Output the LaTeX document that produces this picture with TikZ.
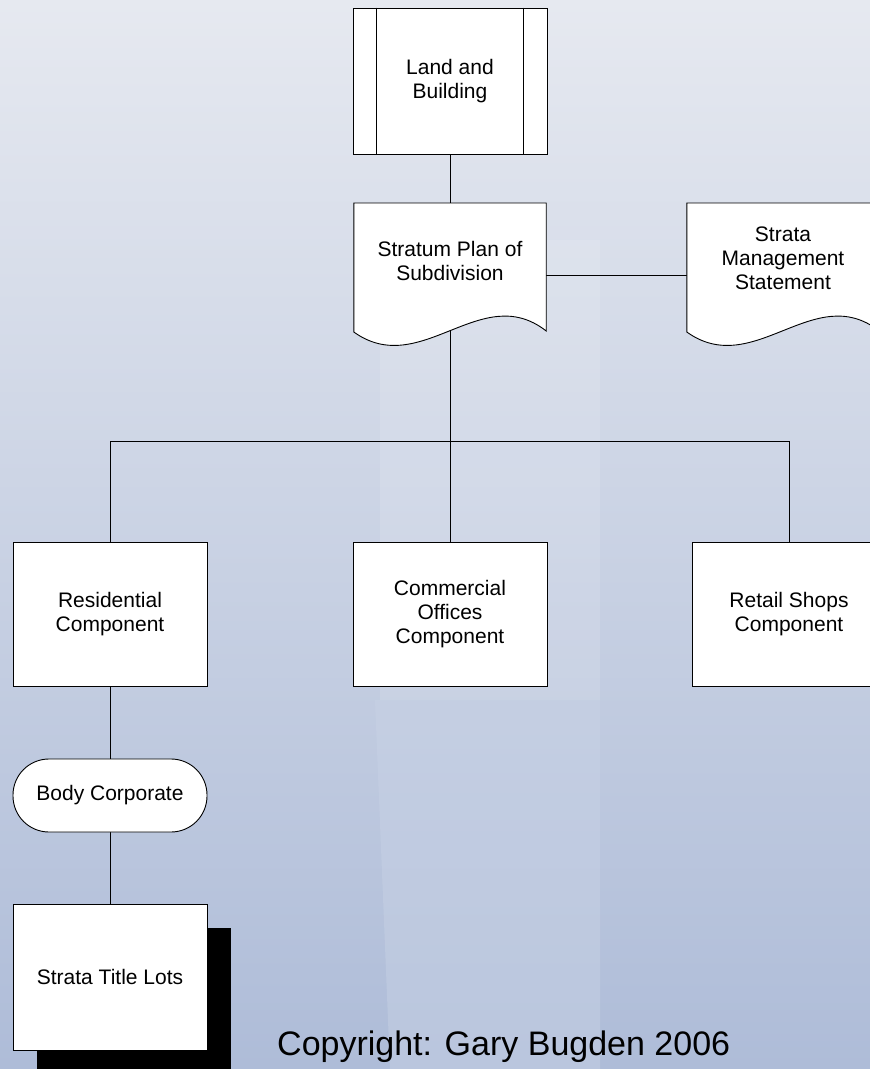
\documentclass[tikz,border=0pt]{standalone}
\usepackage{fontspec}
\setmainfont{Liberation Sans}
\usetikzlibrary{calc,shadows}
\pgfdeclarelayer{bg}
\pgfdeclarelayer{edges}
\pgfsetlayers{bg,edges,main}
\definecolor{bgtop}{HTML}{E6E9F0}
\definecolor{bgmid}{HTML}{D3DAE8}
\definecolor{bgbot}{HTML}{AEBCD8}
\definecolor{bldg}{HTML}{C9D3E6}
\tikzset{
  lbl/.style={font=\fontsize{21}{24}\selectfont, align=center},
  box/.style={lbl, draw=black, line width=0.9pt, fill=white, minimum width=194pt, minimum height=144pt, inner sep=2pt},
  doctext/.style={lbl, minimum width=192pt, inner sep=0pt, anchor=north},
  docline/.style={draw=black, line width=0.9pt, fill=white},
  link/.style={draw=black, line width=0.9pt},
  term/.style={box, minimum height=73pt, rounded corners=36pt},
  copyr/.style={font=\fontsize{34}{40}\selectfont, anchor=base west, inner sep=0pt}
}
\newcommand\docoutline[1]{%
  \path[docline] (#1.north west) -- ($(#1.north west)+(0,129)$)
    .. controls ($(#1.north west)+(67,177)$) and ($(#1.north east)+(-65,77)$)
    .. ($(#1.north east)+(0,128)$) -- (#1.north east) -- cycle;}
\begin{document}
\begin{tikzpicture}[x=1pt,y=-1pt]
\useasboundingbox (0,0) rectangle (870,1069);
\begin{pgfonlayer}{bg}
  \shade[top color=bgtop, middle color=bgmid, bottom color=bgbot] (0,0) rectangle (870,1069);
  \fill[bldg, opacity=0.45] (375,700) -- (600,700) -- (600,1069) -- (390,1069) -- cycle;
  \fill[white, opacity=0.12] (380,240) rectangle (600,700);
\end{pgfonlayer}

% nodes
\node[box, minimum height=146pt] (land) at (450,81) {Land and\\Building};
\draw[link] ($(land.north west)+(24,0)$) -- ($(land.south west)+(24,0)$);
\draw[link] ($(land.north east)+(-24,0)$) -- ($(land.south east)+(-24,0)$);

\node[doctext, minimum height=116pt] (sp) at (450,203) {Stratum Plan of\\Subdivision};
\node[doctext, minimum height=110pt] (sms) at (783,203) {Strata\\Management\\Statement};

\node[box] (res) at (110,614) {Residential\\Component};
\node[box] (com) at (450,614) {Commercial\\Offices\\Component};
\node[box] (ret) at (789,614) {Retail Shops\\Component};

\node[term] (body) at (110,795.5) {Body Corporate};
\node[box, minimum height=146pt,
      drop shadow={shadow xshift=24pt, shadow yshift=-24pt, fill=black, opacity=1}] (lots) at (110,977) {Strata Title Lots};

\node[copyr] (copy) at (277,1055) {Copyright: Gary Bugden 2006};

% connectors
\begin{pgfonlayer}{edges}
  \coordinate (bus) at (0,441);
  \draw[link] (land.south) -- (sp.north);
  \draw[link] ($(sp.north east)+(0,72)$) -- ($(sms.north west)+(0,72)$);
  \draw[link] (sp.south) -- (com.north);
  \draw[link] (res.north) -- (res.north |- bus) -- (ret.north |- bus) -- (ret.north);
  \draw[link] (res.south) -- (body.north);
  \draw[link] (body.south) -- (lots.north);
  \docoutline{sp}
  \docoutline{sms}
\end{pgfonlayer}
\end{tikzpicture}
\end{document}
